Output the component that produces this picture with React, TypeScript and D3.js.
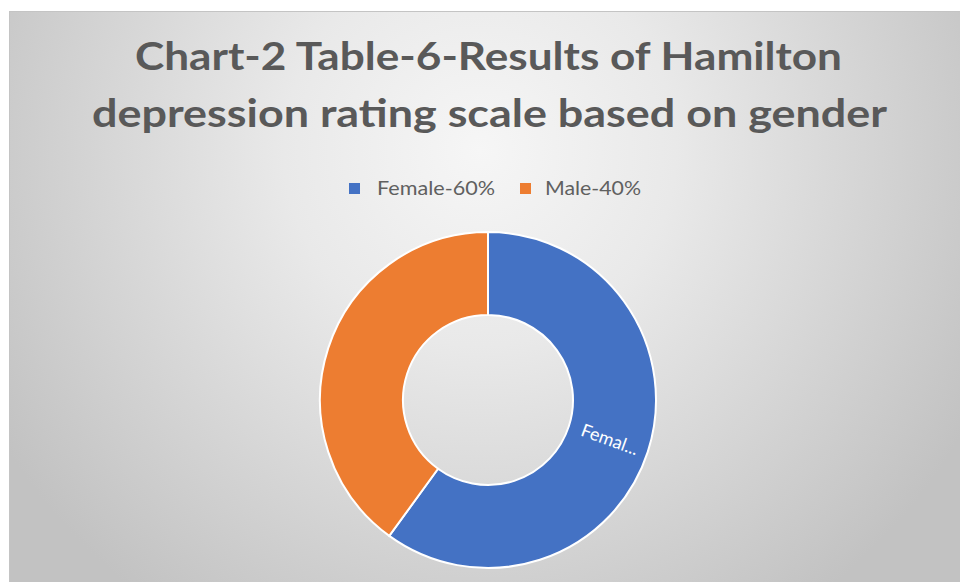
import React from "react";
import * as d3 from "d3";

const categories = ["Female-60%", "Male-40%"];
const values = [60, 40];
const colors = ["#4472C4", "#ED7D31"];
const sliceLabels = ["Femal...", ""];
const titleLines = [
  "Chart-2 Table-6-Results of Hamilton",
  "depression rating scale based on gender",
];

const W = 960;
const H = 582;

export default function App() {
  const cx = 488;
  const cy = 400;
  const outerR = 168;
  const innerR = 85;

  const pie = d3.pie<number>().sort(null).value((d) => d)(values);
  const arc = d3.arc<d3.PieArcDatum<number>>().innerRadius(innerR).outerRadius(outerR);

  const titleX = [488.5, 489.5];
  const titleY = [70, 127];
  const titleLen = [707, 795];

  const legendSquareX = [349, 520];
  const legendTextX = [377, 545];
  const legendTextLen = [118, 96];

  return (
    <svg
      width={W}
      height={H}
      style={{ position: "absolute", left: 0, top: 0, display: "block" }}
    >
      <defs>
        <radialGradient id="bg" gradientUnits="userSpaceOnUse" cx={480} cy={150} r={560}>
          <stop offset="0" stopColor="#f6f6f6" />
          <stop offset="0.35" stopColor="#e9e9e9" />
          <stop offset="1" stopColor="#c2c2c2" />
        </radialGradient>
      </defs>
      <rect x={0} y={0} width={W} height={H} fill="#ffffff" />
      <rect x={9.5} y={11.5} width={W} height={H} fill="url(#bg)" stroke="#c4c4c4" strokeWidth={1} />

      {titleLines.map((t, i) => (
        <text
          key={i}
          x={titleX[i]}
          y={titleY[i]}
          textAnchor="middle"
          fontFamily="Lato, 'Open Sans', sans-serif"
          fontWeight={700}
          fontSize={39}
          fill="#595959"
          textLength={titleLen[i]}
          lengthAdjust="spacingAndGlyphs"
        >
          {t}
        </text>
      ))}

      {categories.map((c, i) => (
        <g key={c}>
          <rect x={legendSquareX[i]} y={183} width={11} height={11} fill={colors[i]} />
          <text
            x={legendTextX[i]}
            y={195}
            fontFamily="Lato, 'Open Sans', sans-serif"
            fontSize={19}
            fill="#606060"
            textLength={legendTextLen[i]}
            lengthAdjust="spacingAndGlyphs"
          >
            {c}
          </text>
        </g>
      ))}

      <g transform={`translate(${cx},${cy})`}>
        {pie.map((p, i) => (
          <path key={i} d={arc(p) || ""} fill={colors[i]} stroke="#ffffff" strokeWidth={2} />
        ))}
        {pie.map((p, i) => {
          if (!sliceLabels[i]) return null;
          const [lx, ly] = arc.centroid(p);
          const mid = ((p.startAngle + p.endAngle) / 2) * (180 / Math.PI);
          const rot = mid - 88;
          return (
            <text
              key={"l" + i}
              transform={`translate(${lx + 1},${ly + 2}) rotate(${rot})`}
              textAnchor="middle"
              dominantBaseline="middle"
              fontFamily="Lato, 'Open Sans', sans-serif"
              fontSize={18}
              fill="#ffffff"
            >
              {sliceLabels[i]}
            </text>
          );
        })}
      </g>
    </svg>
  );
}
